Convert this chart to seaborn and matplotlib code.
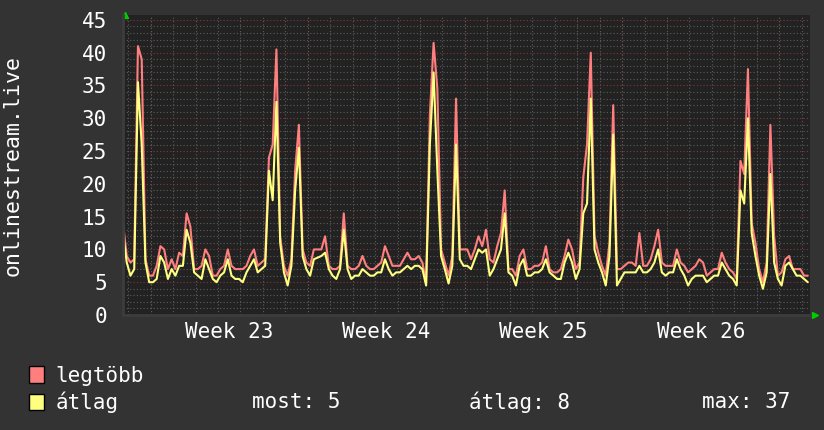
import matplotlib
matplotlib.use("Agg")
import matplotlib.pyplot as plt
import matplotlib.dates as mdates
from matplotlib.patches import Patch
import seaborn as sns
import numpy as np
import pandas as pd

nan = np.nan

# 4-hour samples, first one at the left edge of the graph
start = "2023-06-03 18:30"
step = "4h"

legtobb = [14, 9, 8, 8.5, 41, 39, 8.5, 6, 6, 7.5,
           10.5, 10, 7, 8.5, 7, 9.5, 9, 15.5, 13.5, 7,
           7, 7.5, 10, 9, 6, 6, 7, 7.5, 10, 7.5,
           7, 7, 7, 7.5, 9, 10, 7.5, 8, 8.5, 24,
           26, 40.5, 12, 7.5, 6, 8.5, 22, 29, 10, 8,
           7.5, 10, nan, 10, 12, 7.5, 7, 7, 7.5, 15.5,
           7.5, 7, 7, 7.5, 9, 7.5, 7, 7, 7.5, 8,
           10.5, 9, 7.5, 7.5, 7.5, 8.5, 9.5, 8.5, 8.5, 9,
           8, 5, 30.5, 41.5, 34.5, 10, 8, 6, 9, 33,
           10, 10, 10, 8.5, 10, 12, 10.5, 13, 8.5, 8,
           10.5, 12.5, 19, 7, 7, 6, 9, 10, 7, 7,
           7.5, 7.5, 8, 10.5, 7, 6.5, 6.5, 7, 9, 11.5,
           10, 7, 8, 21, 26, 40, 12, 9.5, 7.5, 6,
           11, 32, 7, 7, 7.5, 8, 8, 7.5, 12.5, 7.5,
           7.5, 8.5, 10.5, 13, 8, 7.5, 7.5, 7.5, 10, 8,
           7.5, 6.5, 7, 7.5, 8.5, 8, 6, 6.5, 7, 7,
           9.5, 8, 7, 6.5, 5.5, 23.5, 21.5, 37.5, 14, 11,
           7, 5, 8, 29, 12, 6, 6.5, 8.5, 9, 7,
           7, 7, 6, 6]

atlag = [12.5, 8, 6, 7, 35.5, 26, 8, 5, 5, 5.5,
         9, 8, 5.5, 7, 6, 7.5, 7.5, 13, 11, 6.5,
         6, 5.5, 8.5, 7, 5.5, 5, 6, 6.5, 8.5, 6,
         5.5, 5.5, 5, 6.5, 7.5, 8.5, 6.5, 7, 7.5, 22,
         17.5, 32.5, 11, 6.5, 4.5, 7.5, 19, 25.5, 9, 7,
         6, 8.5, nan, 9, 9.5, 7, 6, 5.5, 7, 13,
         7, 5.5, 6, 6, 7, 6.5, 6, 6, 6.5, 6.5,
         8.5, 7, 6, 6.5, 6.5, 7, 7.5, 7, 7.5, 7.5,
         7, 4.5, 26, 37, 22, 9, 7, 4.8, 7.5, 26,
         8.5, 7.5, 7.5, 7, 8.5, 10, 9.5, 10, 6, 7,
         8.5, 10, 15.5, 6.5, 6, 4.5, 7.5, 8.5, 6, 6,
         6.5, 6.5, 7, 8.5, 6.5, 6, 5.5, 5.5, 8, 9.5,
         8, 5.5, 7, 15.5, 17, 33, 10, 8, 6.5, 4.5,
         9, 27.5, 4.5, 5.5, 6.5, 6.5, 6.5, 6.5, 7.5, 6.5,
         6.5, 7, 8, 10, 6.5, 6, 6.5, 6.5, 8.5, 7,
         6, 4.5, 5.5, 6, 6, 6, 5, 5.5, 6, 6,
         8, 7, 6, 5.5, 4.5, 19, 17, 30, 12.5, 9,
         6, 4, 6.5, 21.5, 8, 5.5, 4.5, 7.5, 8, 7,
         6, 6, 5.5, 5]

series_names = ["legtöbb", "átlag"]
series_colors = ["#ff7f7f", "#ffff7f"]
week_labels = ["Week 23", "Week 24", "Week 25", "Week 26"]
week_starts = ["2023-06-05", "2023-06-12", "2023-06-19", "2023-06-26", "2023-07-03"]
x_end = "2023-07-04 08:50"
stat_texts = ["most: 5", "átlag: 8", "max: 37"]
y_ticks = [0, 5, 10, 15, 20, 25, 30, 35, 40, 45]

times = pd.date_range(start, periods=len(legtobb), freq=step)
df = pd.concat([
    pd.DataFrame({"time": times, "value": legtobb, "series": series_names[0]}),
    pd.DataFrame({"time": times, "value": atlag, "series": series_names[1]}),
], ignore_index=True)

bg = "#333333"
canvas = "#222222"
sns.set_style("dark", {"axes.facecolor": canvas, "figure.facecolor": bg})
plt.rcParams['font.family'] = ["DejaVu Sans Mono"]
plt.rcParams['text.color'] = "white"

fig = plt.figure(figsize=(8.24, 4.30), dpi=100)
ax = fig.add_axes([123/824, 1 - 315/430, 687/824, 300/430])

sns.lineplot(data=df, x="time", y="value", hue="series", hue_order=series_names,
             palette=series_colors, linewidth=1.5,
             legend=False, ax=ax, estimator=None, sort=False)

ax.set_xlim(pd.Timestamp(start), pd.Timestamp(x_end))
ax.set_ylim(0, 45.75)

# grid: minor gray dotted, major red dotted
ax.set_yticks(y_ticks)
ax.yaxis.set_minor_locator(matplotlib.ticker.MultipleLocator(1))
ax.xaxis.set_minor_locator(mdates.DayLocator())
ax.grid(which="minor", color="#5c5c5c", linestyle=(0, (1, 2)), linewidth=0.8)
ax.grid(which="major", axis="y", color="#8a3535", linestyle=(0, (1, 2)), linewidth=0.8)
for w in week_starts:
    ax.axvline(pd.Timestamp(w), color="#8a3535", linestyle=(0, (1, 2)), linewidth=0.8, zorder=0.5)
ax.set_axisbelow(True)

mid_weeks = [pd.Timestamp(w) + pd.Timedelta(days=3.5) for w in week_starts[:-1]]
ax.set_xticks(mid_weeks)
ax.set_xticklabels(week_labels)
ax.tick_params(axis="both", which="both", length=0, colors="white", labelsize=15)
ax.tick_params(axis="y", pad=11.5)
ax.tick_params(axis="x", pad=5)
ax.set_xlabel("")
ax.set_ylabel("onlinestream.live", fontsize=15.5, color="white", va="center")
ax.yaxis.set_label_coords(-0.160, 0.5)

for s in ax.spines.values():
    s.set_visible(False)
ax.spines["left"].set_visible(True)
ax.spines["bottom"].set_visible(True)
ax.spines["left"].set_color("#3c3c3c")
ax.spines["bottom"].set_color("#3c3c3c")
ax.spines["left"].set_linewidth(2)
ax.spines["bottom"].set_linewidth(2)

# green axis arrows
ax.plot([0.003], [1.0], marker="^", color="#00cc00", markersize=5,
        transform=ax.transAxes, clip_on=False)
ax.plot([1.008], [0.0], marker=">", color="#00cc00", markersize=5,
        transform=ax.transAxes, clip_on=False)

handles = [Patch(facecolor=c, edgecolor="black", linewidth=1) for c in series_colors]
fig.legend(handles, series_names, loc="upper left",
           bbox_to_anchor=(29/824, 1 - 366/430), frameon=False,
           fontsize=15, handlelength=0.72, handleheight=0.85,
           handletextpad=0.55, labelspacing=0.28, borderpad=0, borderaxespad=0,
           labelcolor="white")

for xpos, t in zip([252, 469, 702], stat_texts):
    fig.text(xpos/824, 1 - 402/430, t, fontsize=15, color="white", va="center")

fig.savefig("out.png", dpi=100, facecolor=bg)
